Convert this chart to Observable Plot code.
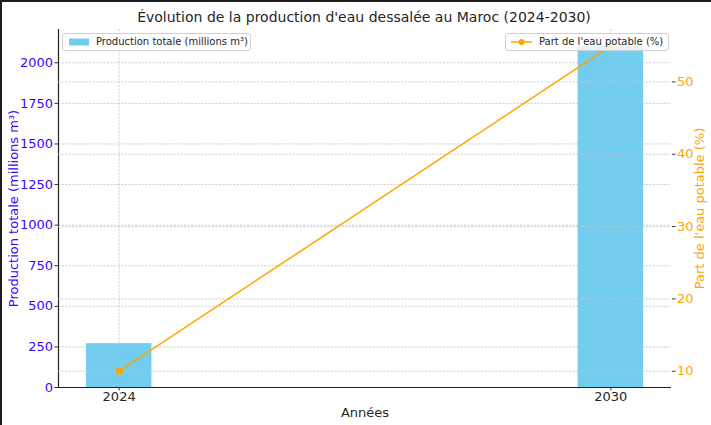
<!DOCTYPE html>
<html>
<head>
<meta charset="utf-8">
<script src="https://cdn.jsdelivr.net/npm/d3@7"></script>
<script src="https://cdn.jsdelivr.net/npm/@observablehq/plot@0.6"></script>
<style>
  html, body { margin: 0; padding: 0; background: #fff; }
  #wrap { position: relative; width: 711px; height: 425px; overflow: hidden; background: #fff; font-family: "DejaVu Sans", sans-serif; color: #262626; }
  #wrap > svg { position: absolute; left: 0; top: 0; }
  .edge { position: absolute; background: #1e1e1e; z-index: 9; }
  #title { position: absolute; left: 0; width: 728px; top: 7px; text-align: center; font-size: 14px; line-height: 20px; color: #262626; white-space: nowrap; }
  .legend { position: absolute; height: 16px; border: 1px solid #d0d0d0; border-radius: 3px; background: rgba(255,255,255,0.8); font-size: 10px; line-height: 16px; color: #262626; white-space: nowrap; z-index: 5; }
  .legend .sw { position: absolute; }
  .legend .lab { position: absolute; top: 0; }
</style>
</head>
<body>
<div id="wrap">
  <div id="title">Évolution de la production d'eau dessalée au Maroc (2024-2030)</div>
</div>
<script>
// ---- data ----
const years = [2024, 2030];
const production = [270, 2100];          // millions m³
const partPotable = [10, 55];            // %
const yLeftTicks = [0, 250, 500, 750, 1000, 1250, 1500, 1750, 2000];
const yRightTicks = [10, 20, 30, 40, 50];
const seriesNames = ["Production totale (millions m³)", "Part de l'eau potable (%)"];
const axisLabels = { x: "Années", yLeft: "Production totale (millions m³)", yRight: "Part de l'eau potable (%)" };

const barColor = "#72cdee";
const lineColor = "#ffa500";
const leftColor = "#3a06ff";
const gridColor = "#c4c4c4";

const data = years.map((y, i) => ({ year: y, prod: production[i], part: partPotable[i] }));

// matplotlib-like autoscaling
const barW = 0.8;
const xr = (d3.max(years) + barW / 2) - (d3.min(years) - barW / 2);
const xDomain = [d3.min(years) - barW / 2 - 0.05 * xr, d3.max(years) + barW / 2 + 0.05 * xr];
const yLeftDomain = [0, d3.max(production) * 1.05];
const pr = d3.max(partPotable) - d3.min(partPotable);
const yRightDomain = [d3.min(partPotable) - 0.05 * pr, d3.max(partPotable) + 0.05 * pr];

const W = 711, H = 425;
const M = { left: 58, right: 40, top: 29, bottom: 38 };
const common = {
  width: W, height: H,
  marginLeft: M.left, marginRight: M.right, marginTop: M.top, marginBottom: M.bottom,
  style: { fontFamily: "DejaVu Sans, sans-serif", fontSize: "13px", background: "transparent", overflow: "visible" }
};
const dash = "2.2,1.3";

const p1 = Plot.plot({
  ...common,
  x: { type: "linear", domain: xDomain },
  y: { domain: yLeftDomain },
  marks: [
    Plot.gridY(yLeftTicks, { stroke: gridColor, strokeOpacity: 1, strokeWidth: 0.8, strokeDasharray: dash }),
    Plot.gridX(years, { stroke: gridColor, strokeOpacity: 1, strokeWidth: 0.8, strokeDasharray: dash }),
    Plot.rectY(data, { x1: d => d.year - barW / 2, x2: d => d.year + barW / 2, y1: 0, y2: "prod", fill: barColor }),
    Plot.axisY(yLeftTicks, {
      tickSize: 3.5, tickPadding: 2, stroke: "#333", fill: leftColor, tickFormat: d => String(d),
      label: axisLabels.yLeft, labelAnchor: "center", labelArrow: "none", labelOffset: 50
    }),
    Plot.axisX(years, {
      tickSize: 3.5, tickPadding: 1, stroke: "#333", fill: "#262626", tickFormat: d => String(d),
      label: axisLabels.x, labelAnchor: "center", labelArrow: "none", labelOffset: 29
    }),
    Plot.ruleX([xDomain[0]], { stroke: "#222", strokeWidth: 1.2 }),
    Plot.ruleY([0], { stroke: "#222", strokeWidth: 1.2 })
  ]
});

const p2 = Plot.plot({
  ...common,
  x: { type: "linear", domain: xDomain, axis: null },
  y: { domain: yRightDomain, axis: null },
  marks: [
    Plot.gridY(yRightTicks, { stroke: gridColor, strokeOpacity: 1, strokeWidth: 0.8, strokeDasharray: dash }),
    Plot.line(data, { x: "year", y: "part", stroke: lineColor, strokeWidth: 1.5 }),
    Plot.dot(data, { x: "year", y: "part", fill: lineColor, r: 3.5 }),
    Plot.axisY(yRightTicks, {
      anchor: "right", tickSize: 3.5, tickPadding: 2, stroke: "#333", fill: lineColor, tickFormat: d => String(d),
      label: axisLabels.yRight, labelAnchor: "center", labelArrow: "none", labelOffset: 32
    })
  ]
});

const wrap = document.getElementById("wrap");
wrap.appendChild(p1);
wrap.appendChild(p2);

// legends
function addLegend(left, topPx, width, kind, text) {
  const div = document.createElement("div");
  div.className = "legend";
  div.style.left = left + "px";
  div.style.top = topPx + "px";
  div.style.width = width + "px";
  const ns = "http://www.w3.org/2000/svg";
  const sw = document.createElementNS(ns, "svg");
  sw.setAttribute("class", "sw");
  sw.setAttribute("width", 24); sw.setAttribute("height", 16);
  sw.style.left = "5px"; sw.style.top = "0px";
  if (kind === "bar") {
    const r = document.createElementNS(ns, "rect");
    r.setAttribute("x", 1); r.setAttribute("y", 4.5); r.setAttribute("width", 20); r.setAttribute("height", 7);
    r.setAttribute("fill", barColor);
    sw.appendChild(r);
  } else {
    const l = document.createElementNS(ns, "line");
    l.setAttribute("x1", 0); l.setAttribute("x2", 21); l.setAttribute("y1", 8); l.setAttribute("y2", 8);
    l.setAttribute("stroke", lineColor); l.setAttribute("stroke-width", 1.5);
    const c = document.createElementNS(ns, "circle");
    c.setAttribute("cx", 10.5); c.setAttribute("cy", 8); c.setAttribute("r", 3);
    c.setAttribute("fill", lineColor);
    sw.appendChild(l); sw.appendChild(c);
  }
  div.appendChild(sw);
  const lab = document.createElement("span");
  lab.className = "lab";
  lab.style.left = "33px";
  lab.textContent = text;
  div.appendChild(lab);
  wrap.appendChild(div);
}
addLegend(62, 33, 187, "bar", seriesNames[0]);
addLegend(505, 33, 162, "line", seriesNames[1]);

// dark screenshot edges
const edgeTop = document.createElement("div"); edgeTop.className = "edge";
edgeTop.style.cssText = "left:0;top:0;width:711px;height:2px;";
const edgeLeft = document.createElement("div"); edgeLeft.className = "edge";
edgeLeft.style.cssText = "left:0;top:0;width:2px;height:425px;";
wrap.appendChild(edgeTop); wrap.appendChild(edgeLeft);
</script>
</body>
</html>
